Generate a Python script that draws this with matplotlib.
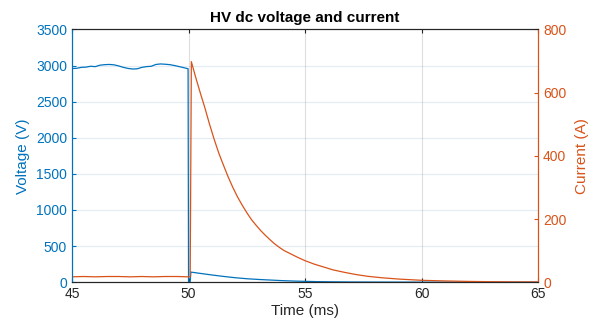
import matplotlib
matplotlib.use("Agg")
import matplotlib.pyplot as plt

plt.rcParams['font.family'] = ['Liberation Sans', 'DejaVu Sans']

# Voltage (V) vs time (ms)
t_v = [45.0, 45.2, 45.4, 45.6, 45.8, 46.0, 46.2, 46.4, 46.6, 46.8, 47.0, 47.2, 47.4,
       47.6, 47.8, 48.0, 48.2, 48.4, 48.6, 48.8, 49.0, 49.2, 49.4, 49.6, 49.8, 49.98,
       50.0, 50.07, 50.1, 50.5, 51.0, 51.5, 52.0, 52.5, 53.0, 53.5, 54.0, 54.5,
       55.0, 55.5, 56.0, 57.0, 58.0, 60.0, 62.0, 65.0]
v = [2958, 2962, 2975, 2978, 2990, 2985, 3005, 3012, 3015, 3010, 2995, 2975, 2960,
     2952, 2955, 2975, 2985, 2990, 3015, 3022, 3018, 3012, 3000, 2985, 2970, 2955,
     5, 5, 140, 122, 100, 80, 62, 48, 38, 30, 22, 16,
     12, 8, 6, 3, 2, 1, 0, 0]

# Current (A) vs time (ms)
t_i = [45.0, 45.5, 46.0, 46.5, 47.0, 47.5, 48.0, 48.5, 49.0, 49.5, 50.0, 50.07,
       50.12, 50.3, 50.5, 50.7, 50.9, 51.1, 51.3, 51.5, 51.7, 51.9, 52.1, 52.3,
       52.5, 52.7, 52.9, 53.1, 53.3, 53.5, 53.7, 53.9, 54.1, 54.4, 54.7, 55.0,
       55.4, 55.8, 56.2, 56.7, 57.2, 57.7, 58.3, 59.0, 60.0, 61.0, 62.0, 63.0,
       64.0, 65.0]
cur = [17, 18, 17, 18, 18, 17, 18, 17, 18, 18, 17, 17,
       698, 650, 600, 552, 500, 452, 408, 370, 333, 300, 270, 244,
       220, 198, 180, 163, 148, 134, 121, 110, 100, 89, 78, 68,
       57, 48, 39, 31, 24, 18.5, 14, 10, 6, 4, 2.5, 1.5,
       1, 0.7]

blue = '#0072BD'
orange = '#D95319'
dark = '#262626'

fig = plt.figure(figsize=(6.0, 3.27), dpi=100)
ax = fig.add_axes([0.12, 0.137, 0.777, 0.773])
ax2 = ax.twinx()

ax.plot(t_v, v, color=blue, lw=0.9)
ax2.plot(t_i, cur, color=orange, lw=0.9)

ax.set_xlim(45, 65)
ax.set_ylim(0, 3500)
ax2.set_ylim(0, 800)
ax.set_xticks([45, 50, 55, 60, 65])
ax.set_yticks(range(0, 3501, 500))
ax2.set_yticks(range(0, 801, 200))

# grids
ax.grid(axis='y', color=blue, alpha=0.12, lw=0.8)
ax.grid(axis='x', color=dark, alpha=0.15, lw=0.8)
ax.set_axisbelow(True)

for a in (ax, ax2):
    a.tick_params(direction='in', length=3, labelsize=10)
ax.tick_params(axis='y', colors=blue, labelcolor=blue)
ax.tick_params(axis='x', colors=dark, labelcolor=dark, top=True)
ax2.tick_params(axis='y', colors=orange, labelcolor=orange)

for s in ('top', 'bottom'):
    ax.spines[s].set_color(dark)
    ax2.spines[s].set_color(dark)
ax.spines['left'].set_color(blue)
ax2.spines['left'].set_color(blue)
ax2.spines['right'].set_color(orange)
ax.spines['right'].set_color(orange)
for a in (ax, ax2):
    for s in a.spines.values():
        s.set_linewidth(0.8)

ax.set_xlabel('Time (ms)', fontsize=11, color=dark, labelpad=2)
ax.set_ylabel('Voltage (V)', fontsize=11, color=blue, labelpad=4)
ax2.set_ylabel('Current (A)', fontsize=11, color=orange, labelpad=6)
ax.set_title('HV dc voltage and current', fontsize=11, fontweight='bold', color='black', pad=5)

fig.savefig('out.png', dpi=100)
